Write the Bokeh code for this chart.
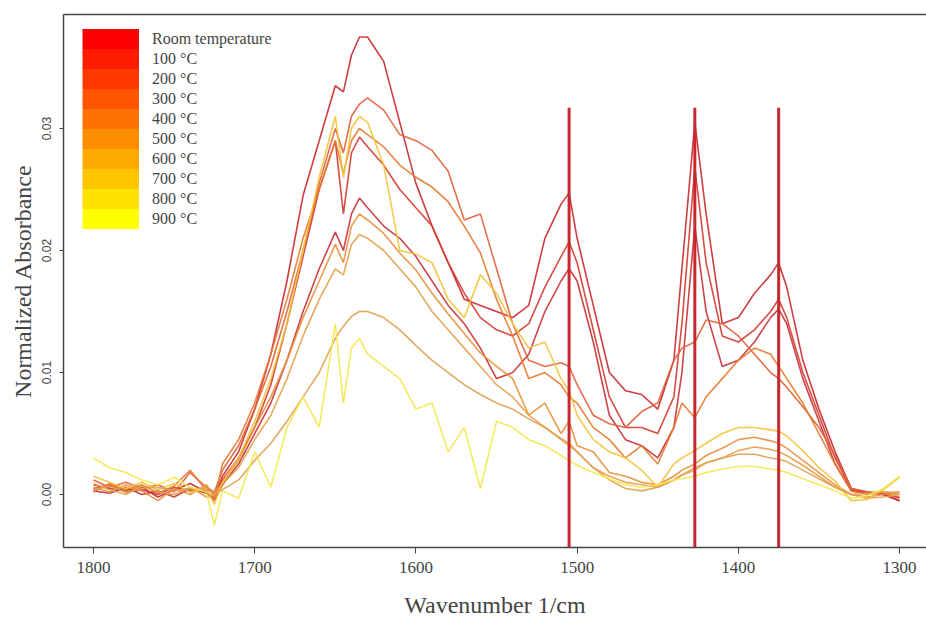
from bokeh.plotting import figure
from bokeh.models import Range1d, FixedTicker, LinearAxis, Legend, LegendItem
from bokeh.embed import file_html
from bokeh.resources import INLINE

# ---------------- data ----------------
wavenumber = [1800, 1790, 1780, 1770, 1760, 1750, 1740, 1730, 1725, 1720,
              1710, 1700, 1690, 1680, 1670, 1660, 1650, 1645, 1640, 1635,
              1630, 1620, 1610, 1600, 1590, 1580, 1570, 1560, 1550, 1540,
              1530, 1520, 1510, 1505, 1500, 1490, 1480, 1470, 1460, 1450,
              1440, 1435, 1427, 1420, 1410, 1400, 1390, 1380, 1375, 1370,
              1360, 1350, 1340, 1330, 1320, 1310, 1300]

series_names = ["Room temperature", "100 \u00b0C", "200 \u00b0C", "300 \u00b0C", "400 \u00b0C",
                "500 \u00b0C", "600 \u00b0C", "700 \u00b0C", "800 \u00b0C", "900 \u00b0C"]

t_room = [0.0008, 0.0005, 0.0003, 0.0006, -0.0002, 0.0004, 0.0009, 0.0002,
          -0.0003, 0.0015,
          0.0035, 0.0070, 0.0115, 0.0175, 0.0245, 0.0290, 0.0335,
          0.0330, 0.0360, 0.0375, 0.0375,
          0.0355, 0.0305, 0.0255, 0.0220, 0.0190, 0.0160, 0.0155, 0.0150, 0.0145, 0.0155, 0.0210, 0.0238,
          0.0247, 0.0210,
          0.0155, 0.0100, 0.0085, 0.0082, 0.0070, 0.0110,
          0.0185, 0.0305, 0.0230,
          0.0140, 0.0145, 0.0165, 0.0180,
          0.0190, 0.0170,
          0.0110, 0.0070, 0.0035, 0.0005, 0.0002, 0.0000, -0.0005]

t_100 = [0.0005, 0.0008, 0.0002, 0.0004, 0.0000, 0.0006, 0.0003, 0.0005,
         0.0000, 0.0012,
         0.0030, 0.0055, 0.0090, 0.0140, 0.0195, 0.0250, 0.0290,
         0.0230, 0.0280, 0.0293, 0.0285,
         0.0270, 0.0250, 0.0235, 0.0220, 0.0190, 0.0165, 0.0145, 0.0135, 0.0130, 0.0140, 0.0170, 0.0195,
         0.0207, 0.0190,
         0.0135, 0.0080, 0.0055, 0.0055, 0.0050, 0.0080,
         0.0140, 0.0268, 0.0190,
         0.0130, 0.0125, 0.0135, 0.0150,
         0.0160, 0.0145,
         0.0100, 0.0065, 0.0030, 0.0004, 0.0002, 0.0001, -0.0003]

t_200 = [0.0003, 0.0001, 0.0006, 0.0000, 0.0003, -0.0002, 0.0005, 0.0001,
         -0.0005, 0.0008,
         0.0025, 0.0050, 0.0075, 0.0110, 0.0150, 0.0185, 0.0215,
         0.0200, 0.0230, 0.0243, 0.0235,
         0.0220, 0.0210, 0.0195, 0.0175, 0.0155, 0.0140, 0.0120, 0.0095, 0.0100, 0.0115, 0.0150, 0.0175,
         0.0185, 0.0175,
         0.0125, 0.0065, 0.0045, 0.0040, 0.0030, 0.0055,
         0.0100, 0.0220, 0.0150,
         0.0105, 0.0110, 0.0125, 0.0145,
         0.0152, 0.0140,
         0.0095, 0.0060, 0.0025, 0.0003, 0.0001, 0.0000, -0.0005]

t_300 = [0.0012, 0.0006, 0.0010, 0.0005, 0.0008, 0.0002, 0.0018, 0.0006,
         0.0002, 0.0020,
         0.0040, 0.0070, 0.0105, 0.0150, 0.0200, 0.0255, 0.0300,
         0.0280, 0.0310, 0.0320, 0.0325,
         0.0315, 0.0295, 0.0290, 0.0282, 0.0265, 0.0225, 0.0230, 0.0185, 0.0140, 0.0110, 0.0105, 0.0108,
         0.0105, 0.0090,
         0.0065, 0.0058, 0.0055, 0.0068, 0.0075, 0.0110,
         0.0120, 0.0125, 0.0143,
         0.0140, 0.0130, 0.0115, 0.0100,
         0.0095, 0.0088,
         0.0072, 0.0055, 0.0032, 0.0005, 0.0002, 0.0001, -0.0002]

t_400 = [0.0002, 0.0009, 0.0004, 0.0008, 0.0001, 0.0007, 0.0020, 0.0003,
         -0.0005, 0.0025,
         0.0045, 0.0075, 0.0115, 0.0160, 0.0210, 0.0250, 0.0290,
         0.0263, 0.0290, 0.0300, 0.0295,
         0.0285, 0.0270, 0.0260, 0.0252, 0.0240, 0.0220, 0.0198, 0.0160, 0.0130, 0.0095, 0.0100, 0.0090,
         0.0080, 0.0075,
         0.0055, 0.0045, 0.0030, 0.0040, 0.0025, 0.0055,
         0.0075, 0.0063, 0.0080,
         0.0095, 0.0110, 0.0120, 0.0115,
         0.0105, 0.0095,
         0.0075, 0.0050, 0.0025, 0.0003, 0.0000, 0.0002, 0.0000]

t_500 = [0.0006, 0.0002, 0.0008, 0.0003, -0.0005, 0.0005, 0.0000, 0.0008,
         -0.0002, 0.0010,
         0.0028, 0.0055, 0.0080, 0.0110, 0.0145, 0.0175, 0.0205,
         0.0190, 0.0220, 0.0230, 0.0225,
         0.0214, 0.0198, 0.0184, 0.0165, 0.0148, 0.0132, 0.0116, 0.0105, 0.0095, 0.0065, 0.0075, 0.0050,
         0.0060, 0.0040,
         0.0035, 0.0018, 0.0015, 0.0010, 0.0008, 0.0015,
         0.0020, 0.0025, 0.0032,
         0.0038, 0.0045, 0.0047, 0.0044,
         0.0042, 0.0038,
         0.0028, 0.0018, 0.0008, 0.0000, -0.0002, 0.0000, 0.0002]

t_600 = [0.0009, 0.0004, 0.0000, 0.0007, 0.0002, 0.0000, 0.0006, -0.0002,
         0.0000, 0.0009,
         0.0022, 0.0045, 0.0065, 0.0095, 0.0130, 0.0160, 0.0185,
         0.0180, 0.0205, 0.0213, 0.0210,
         0.0200, 0.0185, 0.0170, 0.0150, 0.0135, 0.0120, 0.0105, 0.0090, 0.0080, 0.0065, 0.0055, 0.0045,
         0.0040, 0.0035,
         0.0022, 0.0015, 0.0010, 0.0008, 0.0006, 0.0012,
         0.0016, 0.0020, 0.0026,
         0.0030, 0.0036, 0.0039, 0.0037,
         0.0035, 0.0032,
         0.0024, 0.0015, 0.0006, 0.0000, -0.0003, -0.0002, 0.0000]

t_700 = [0.0015, 0.0010, 0.0005, 0.0010, 0.0004, 0.0009, 0.0002, 0.0005,
         -0.0008, 0.0010,
         0.0030, 0.0060, 0.0095, 0.0140, 0.0200, 0.0260, 0.0310,
         0.0260, 0.0300, 0.0310, 0.0305,
         0.0270, 0.0200, 0.0197, 0.0190, 0.0160, 0.0145, 0.0180, 0.0165, 0.0140, 0.0120, 0.0125, 0.0095,
         0.0085, 0.0065,
         0.0045, 0.0035, 0.0030, 0.0020, 0.0006, 0.0025,
         0.0030, 0.0036, 0.0042,
         0.0050, 0.0055, 0.0055, 0.0053,
         0.0052, 0.0048,
         0.0036, 0.0022, 0.0011, -0.0005, -0.0004, 0.0004, 0.0014]

t_800 = [0.0004, 0.0007, 0.0002, 0.0005, 0.0006, 0.0003, 0.0005, 0.0004,
         0.0001, 0.0004,
         0.0012, 0.0028, 0.0042, 0.0060, 0.0080, 0.0100, 0.0128,
         0.0138, 0.0146, 0.0150, 0.0150,
         0.0145, 0.0135, 0.0122, 0.0110, 0.0100, 0.0090, 0.0082, 0.0075, 0.0070, 0.0062, 0.0055, 0.0046,
         0.0042, 0.0035,
         0.0022, 0.0012, 0.0005, 0.0003, 0.0006, 0.0012,
         0.0016, 0.0022, 0.0026,
         0.0030, 0.0033, 0.0033, 0.0030,
         0.0029, 0.0027,
         0.0020, 0.0013, 0.0006, 0.0000, 0.0001, 0.0002, 0.0002]

t_900 = [0.0030, 0.0022, 0.0018, 0.0012, 0.0008, 0.0014, 0.0006, 0.0002,
         -0.0025, 0.0003,
         -0.0003, 0.0035, 0.0006, 0.0055, 0.0080, 0.0055, 0.0140,
         0.0075, 0.0120, 0.0128, 0.0115,
         0.0105, 0.0095, 0.0070, 0.0075, 0.0035, 0.0055, 0.0005, 0.0060, 0.0055, 0.0045, 0.0040, 0.0032,
         0.0028, 0.0024,
         0.0018, 0.0013, 0.0008, 0.0006, 0.0008, 0.0012,
         0.0013, 0.0015, 0.0018,
         0.0021, 0.0023, 0.0023, 0.0021,
         0.0020, 0.0018,
         0.0013, 0.0008, 0.0003, -0.0003, -0.0001, 0.0005, 0.0015]

all_series = [t_room, t_100, t_200, t_300, t_400, t_500, t_600, t_700, t_800, t_900]

band_positions = [1505, 1427, 1375]
band_top = 0.0317
band_bottom = -0.01

x_ticks = [1800, 1700, 1600, 1500, 1400, 1300]
y_ticks = [0.0, 0.01, 0.02, 0.03]
y_tick_labels = ["0.00", "0.01", "0.02", "0.03"]

legend_colors = ["#FF0000", "#FF1C00", "#FF3800", "#FF5500", "#FF7100",
                 "#FF8D00", "#FFAA00", "#FFC600", "#FFE200", "#FFFF00"]
line_colors = ["#C8282E", "#D5382E", "#C93036", "#E0603A", "#E7782E",
               "#E8903A", "#E6A04A", "#F2C43A", "#E0A050", "#F5E64E"]

SERIF = "Liberation Serif"
SANS = "Liberation Sans"
NAN = float("nan")

# ---------------- figure ----------------
p = figure(width=926, height=630, output_backend="svg", toolbar_location=None,
           x_range=Range1d(1818.6, 1283.3), y_range=Range1d(-0.00434, 0.03934),
           min_border_left=63, min_border_right=0, min_border_top=14, min_border_bottom=83)
p.background_fill_color = "white"
p.border_fill_color = "white"
p.outline_line_color = None
p.xgrid.visible = False
p.ygrid.visible = False

for ys, col in zip(all_series, line_colors):
    p.line(wavenumber, ys, line_color=col, line_width=1.6, line_alpha=0.9)

p.segment(x0=band_positions, y0=[band_bottom] * 3, x1=band_positions, y1=[band_top] * 3,
          line_color="#C8282D", line_width=3)

# axes
xa = p.xaxis[0]
xa.ticker = FixedTicker(ticks=x_ticks)
xa.axis_label = "Wavenumber 1/cm"
xa.axis_label_text_font = SERIF
xa.axis_label_text_font_style = "normal"
xa.axis_label_text_font_size = "24px"
xa.axis_label_standoff = 16
xa.major_label_text_font = SERIF
xa.major_label_text_font_size = "17px"
xa.major_label_standoff = 8
xa.major_tick_out = 6
xa.major_tick_in = 0
xa.minor_tick_out = 0
xa.minor_tick_in = 0
xa.axis_line_color = "#444444"
xa.axis_line_width = 1.5
xa.major_tick_line_color = "#444444"

ya = p.yaxis[0]
ya.ticker = FixedTicker(ticks=y_ticks)
ya.major_label_overrides = {t: s for t, s in zip(y_ticks, y_tick_labels)}
ya.axis_label = "Normalized Absorbance"
ya.axis_label_text_font = SERIF
ya.axis_label_text_font_style = "normal"
ya.axis_label_text_font_size = "24px"
ya.axis_label_standoff = 4
ya.major_label_text_font = SANS
ya.major_label_text_font_size = "12px"
ya.major_label_orientation = "vertical"
ya.major_label_standoff = 8
ya.major_tick_out = 4
ya.major_tick_in = 0
ya.minor_tick_out = 0
ya.minor_tick_in = 0
ya.axis_line_color = "#444444"
ya.axis_line_width = 1.5
ya.major_tick_line_color = "#444444"

top_axis = LinearAxis(ticker=FixedTicker(ticks=[]), major_tick_out=0, major_tick_in=0,
                      minor_tick_out=0, minor_tick_in=0, major_label_text_font_size="0px",
                      axis_line_color="#444444", axis_line_width=1.5)
p.add_layout(top_axis, "above")

# legend: contiguous colour blocks drawn as thick legend strokes (renderers hold no drawable data)
items = []
for name, col in zip(series_names, legend_colors):
    r = p.line(x=[NAN], y=[NAN], line_color=col, line_width=21, line_cap="butt")
    items.append(LegendItem(label=name, renderers=[r]))
legend = Legend(items=items, location=(19, 318), glyph_width=57, glyph_height=20,
                label_height=20, spacing=0, label_standoff=13, padding=0, margin=0,
                label_text_font=SERIF, label_text_font_size="16px",
                border_line_color=None, background_fill_alpha=0)
p.add_layout(legend)

open("out.html", "w").write(file_html(p, INLINE))
